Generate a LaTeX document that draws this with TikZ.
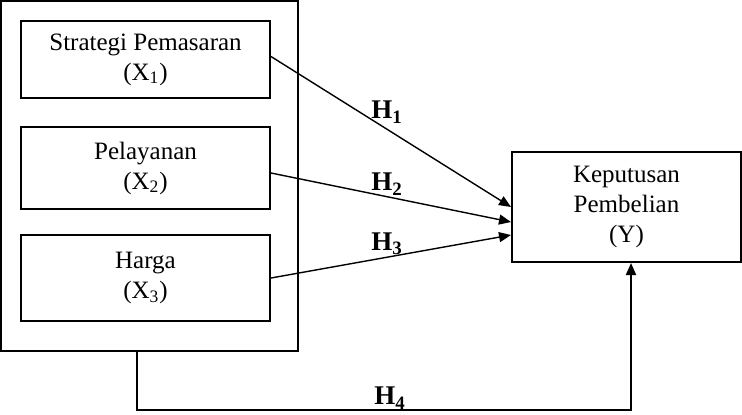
\documentclass[tikz,border=0pt]{standalone}
\usepackage{fontspec}
\setmainfont{Liberation Serif}
\usetikzlibrary{arrows.meta}
\tikzset{
  varbox/.style={draw,line width=1pt,align=center,inner sep=0pt,
    font=\fontsize{12.5}{15}\selectfont},
  arr/.style={line width=.7pt,-{Triangle[length=6pt,width=5pt]}},
  hyp/.style={font=\fontsize{13.5}{15}\selectfont\bfseries}
}

\begin{document}
\begin{tikzpicture}[x=.5pt,y=-.5pt]
\useasboundingbox(0,0)rectangle(742,414);
\node[varbox,minimum width=148.5pt,minimum height=175pt](grp)at(149.5,176){};
\node[varbox,minimum width=124.5pt,minimum height=38.5pt](xa)at(145.5,59.5){Strategi Pemasaran\\(X\textsubscript{1})};
\node[varbox,minimum width=124.5pt,minimum height=41pt](xb)at(145.5,168){Pelayanan\\(X\textsubscript{2})};
\node[varbox,minimum width=124.5pt,minimum height=43pt](xc)at(145.5,278){Harga\\(X\textsubscript{3})};
\node[varbox,minimum width=114.5pt,minimum height=55pt](yv)at(626.5,207){Keputusan\\Pembelian\\(Y)};
\draw[arr]([yshift=1.5pt]xa.east)--(yv.west);
\draw[arr]([yshift=-2.5pt]xb.east)--([yshift=-7.5pt]yv.west);
\draw[arr](xc.east)--([yshift=-14pt]yv.west);
\coordinate(cb)at(137,410);
\draw[arr,line width=1pt]([xshift=-6.25pt]grp.south)--(cb)-|([xshift=2.25pt]yv.south);
\node[hyp](ha)at(387,112){H\textsubscript{1}};
\node[hyp](hb)at(387,184){H\textsubscript{2}};
\node[hyp](hc)at(387,244){H\textsubscript{3}};
\node[hyp](hd)at(390,398){H\textsubscript{4}};
\end{tikzpicture}
\end{document}
